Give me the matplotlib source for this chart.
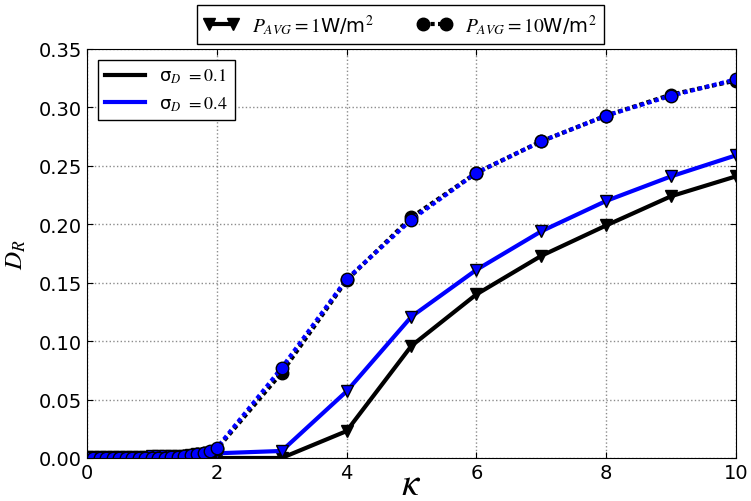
import matplotlib
matplotlib.use("Agg")
import matplotlib.pyplot as plt
from matplotlib.lines import Line2D

plt.rcParams['mathtext.fontset'] = 'stix'
plt.rcParams['font.family'] = ['DejaVu Sans']
plt.rcParams['xtick.direction'] = 'in'
plt.rcParams['ytick.direction'] = 'in'
plt.rcParams['xtick.top'] = True
plt.rcParams['ytick.right'] = True

# kappa values: fine steps up to 2, then integers
kappa = [0.0, 0.1, 0.2, 0.3, 0.4, 0.5, 0.6, 0.7, 0.8, 0.9, 1.0,
         1.1, 1.2, 1.3, 1.4, 1.5, 1.6, 1.7, 1.8, 1.9, 2.0,
         3, 4, 5, 6, 7, 8, 9, 10]

# P_AVG = 1 W/m^2
dr_p1_s01 = [0.0] * 21 + [0.0, 0.023, 0.096, 0.140, 0.173, 0.199, 0.224, 0.241]
dr_p1_s04 = [0.001, 0.001, 0.001, 0.001, 0.001, 0.001, 0.001, 0.001, 0.001, 0.001, 0.0015,
             0.0015, 0.0015, 0.002, 0.002, 0.002, 0.0025, 0.003, 0.003, 0.0035, 0.004,
             0.006, 0.057, 0.121, 0.161, 0.194, 0.220, 0.241, 0.259]

# P_AVG = 10 W/m^2
dr_p10_s01 = [0.0, 0.0, 0.0, 0.0, 0.0, 0.0, 0.0, 0.0, 0.0, 0.0, 0.0,
              0.0, 0.0, 0.0005, 0.001, 0.0015, 0.002, 0.003, 0.004, 0.0055, 0.0075,
              0.073, 0.152, 0.206, 0.244, 0.271, 0.293, 0.311, 0.323]
dr_p10_s04 = [0.0, 0.0, 0.0, 0.0, 0.0, 0.0, 0.0, 0.0, 0.0, 0.0, 0.0,
              0.0, 0.0, 0.0005, 0.001, 0.002, 0.0025, 0.003, 0.0045, 0.006, 0.0085,
              0.077, 0.153, 0.204, 0.244, 0.271, 0.293, 0.310, 0.324]

sigma_labels = [r'σ$_D$ $=0.1$', r'σ$_D$ $=0.4$']
power_labels = [r'$P_{AVG}=1$W/m$^2$', r'$P_{AVG}=10$W/m$^2$']

fig = plt.figure(figsize=(7.51, 5.02), dpi=100)
ax = fig.add_axes([0.1158, 0.0857, 0.8642, 0.8147])

dots = (0, (1, 0.8))
l1, = ax.plot(kappa, dr_p1_s01, color='k', lw=3, marker='v', ms=9, mfc='k', mec='k')
ax.plot(kappa, dr_p1_s04, color='b', lw=3, marker='v', ms=9, mfc='b', mec='k')
l2, = ax.plot(kappa, dr_p10_s01, color='k', lw=3, ls=dots, marker='o', ms=9, mfc='k', mec='k')
ax.plot(kappa, dr_p10_s04, color='b', lw=3, ls=dots, marker='o', ms=9, mfc='b', mec='k')

ax.set_xlim(0, 10)
ax.set_ylim(0, 0.35)
ax.set_xticks([0, 2, 4, 6, 8, 10])
ax.set_yticks([0.0, 0.05, 0.10, 0.15, 0.20, 0.25, 0.30, 0.35])
ax.set_yticklabels(['%.2f' % v for v in ax.get_yticks()])
ax.tick_params(labelsize=14, length=4)
ax.grid(True, color='0.55', ls=':', lw=1)

ax.set_xlabel(r'$\kappa$', fontsize=28, labelpad=-13)
ax.set_ylabel(r'$D_R$', fontsize=18, labelpad=8)

# sigma legend inside
handles = [Line2D([], [], color='k', lw=3), Line2D([], [], color='b', lw=3)]
leg = ax.legend(handles, sigma_labels, loc='upper left', fontsize=13,
                fancybox=False, edgecolor='k', framealpha=1, handlelength=2.2,
                borderaxespad=0.6)
leg.get_frame().set_linewidth(1)

# power legend on top
fleg = fig.legend([l1, l2], power_labels, loc='lower center', ncol=2,
                  bbox_to_anchor=(0.533, 0.911), fontsize=14, numpoints=2,
                  fancybox=False, edgecolor='k', framealpha=1,
                  handlelength=1.8, handletextpad=0.7, columnspacing=2.2,
                  borderpad=0.35, borderaxespad=0)
fleg.get_frame().set_linewidth(1)

plt.savefig('out.png', dpi=100)
